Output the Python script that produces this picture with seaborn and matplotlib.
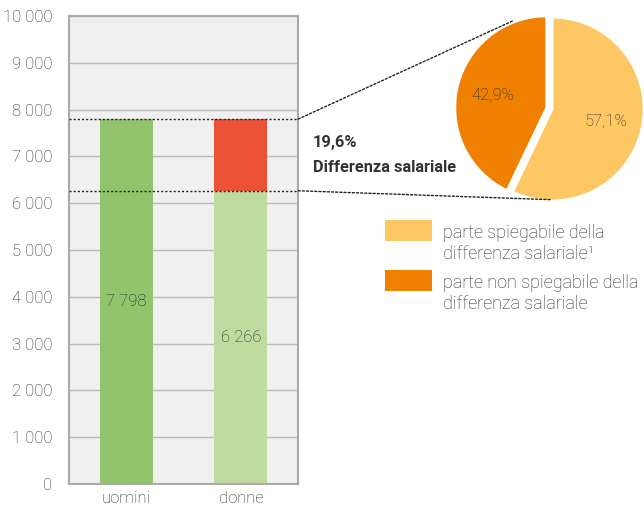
import numpy as np
import pandas as pd
import matplotlib.pyplot as plt
import seaborn as sns
from matplotlib.patches import ConnectionPatch, Rectangle

sessi = ['uomini', 'donne']
salari = [7798, 6266]
quote_labels = ['parte spiegabile della\ndifferenza salariale¹',
                'parte non spiegabile della\ndifferenza salariale']
quote = [57.1, 42.9]
quote_colori = ['#FDC764', '#F08000']
differenza_txt = '19,6%'
yticks = np.arange(0, 10001, 1000)

sns.set_style('white')
plt.rcParams['font.family'] = ['Roboto', 'DejaVu Sans']
plt.rcParams['font.weight'] = 'light'
txt_col = '#2a2a2a'

fig = plt.figure(figsize=(6.44, 5.12), dpi=100)
ax = fig.add_axes([0.107, 0.0547, 0.356, 0.914])
ax.set_facecolor('#F0F0F0')

df = pd.DataFrame({'sesso': sessi, 'salario': salari})
sns.barplot(data=df, x='sesso', y='salario', hue='sesso',
            palette=['#92C46E', '#BFDBA0'], width=0.46, saturation=1,
            legend=False, ax=ax, zorder=2, linewidth=0)
# red gap on top of the women's bar
gap = salari[0] - salari[1]
ax.bar(1, gap, bottom=salari[1], width=0.46, color='#EB5134', zorder=2, lw=0)

for i, v in enumerate(salari):
    ax.text(i, v / 2, f'{v:,}'.replace(',', ' '), ha='center', va='center',
            fontsize=12, color=txt_col, zorder=3)

ax.set_xlim(-0.5, 1.5)
ax.set_ylim(0, 10000)
ax.set_yticks(yticks)
ax.set_yticklabels([f'{t:,}'.replace(',', ' ') for t in yticks])
ax.yaxis.grid(True, color='#BBBBBB', lw=1, zorder=0)
ax.set_axisbelow(True)
ax.set_xlabel('')
ax.set_ylabel('')
ax.tick_params(axis='y', length=3, color='#AAAAAA', labelsize=12,
               labelcolor=txt_col, pad=9)
ax.tick_params(axis='x', length=0, labelsize=12, labelcolor=txt_col, pad=5)
for s in ax.spines.values():
    s.set_color('#AAAAAA')
    s.set_linewidth(1.5)

for v in salari:
    ax.axhline(v, color='#222222', ls=(0, (1.5, 1.5)), lw=1, zorder=4)

# pie
pax = fig.add_axes([0.692, 0.592, 0.314, 0.395])
wedges, texts, autotexts = pax.pie(
    quote, colors=quote_colori, startangle=90, counterclock=False,
    explode=[0.06, 0], pctdistance=0.6,
    autopct=lambda p: f'{p:.1f}%'.replace('.', ','),
    wedgeprops=dict(edgecolor='white', linewidth=2),
    textprops=dict(fontsize=12, color=txt_col))
pax.set_xlim(-1.1, 1.1)
pax.set_ylim(-1.1, 1.1)
pax.set_aspect('equal')

for yv, pt in [(salari[0], (-0.36, 0.95)), (salari[1], (0.05, -1.0))]:
    con = ConnectionPatch(xyA=(1.5, yv), coordsA=ax.transData,
                          xyB=pt, coordsB=pax.transData,
                          color='#222222', ls=(0, (1.5, 1.5)), lw=1)
    fig.add_artist(con)

fig.text(313 / 644, 1 - 147 / 512, differenza_txt, fontsize=11.8,
         fontweight='bold', color='#333333', va='baseline')
fig.text(313 / 644, 1 - 172 / 512, 'Differenza salariale', fontsize=11.8,
         fontweight='bold', color='#333333', va='baseline')

# legend
for i, (lab, c) in enumerate(zip(quote_labels, quote_colori)):
    top = 220 + i * 50
    fig.add_artist(Rectangle((385 / 644, 1 - (top + 21) / 512), 47 / 644,
                             21 / 512, transform=fig.transFigure,
                             facecolor=c, edgecolor='none'))
    for j, line in enumerate(lab.split('\n')):
        base = top + 18 + j * 21
        fig.text(443 / 644, 1 - base / 512, line, fontsize=13,
                 color=txt_col, va='baseline', ha='left')

fig.savefig('out.png', dpi=100)
